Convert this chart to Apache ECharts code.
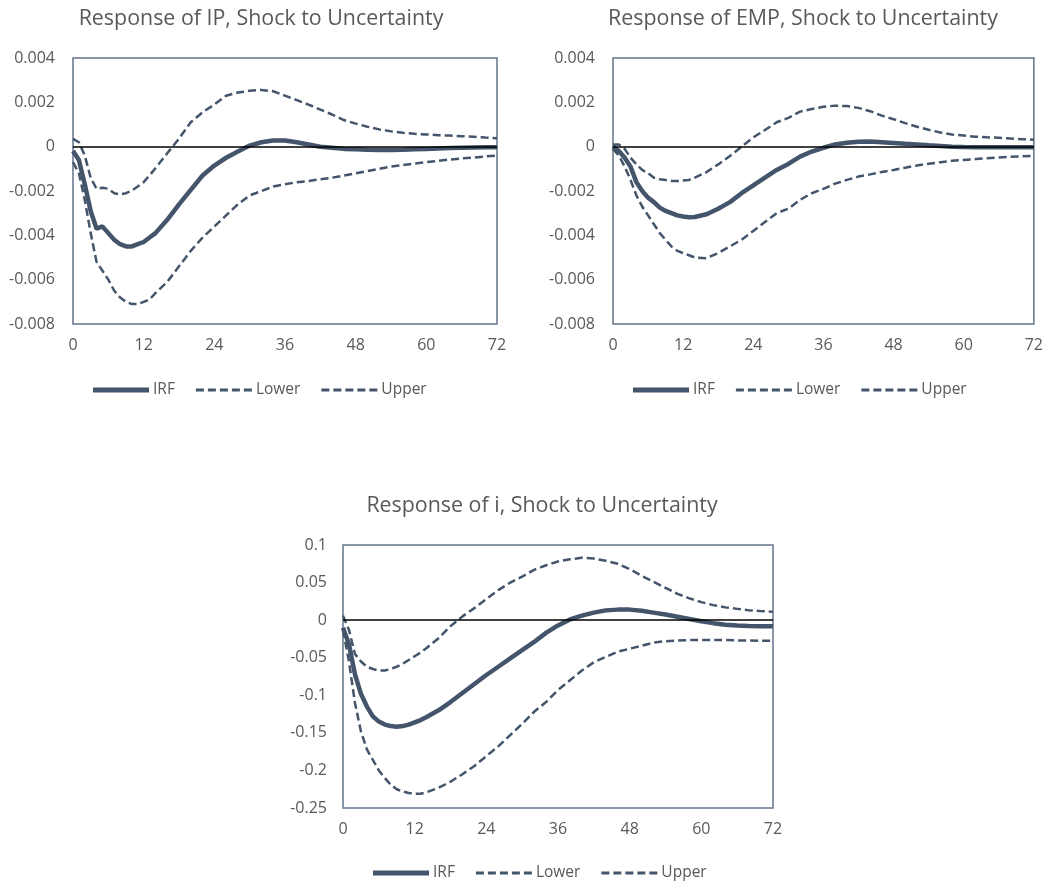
<!DOCTYPE html>
<html>
<head>
<meta charset="utf-8">
<script src="https://cdn.jsdelivr.net/npm/echarts@6/dist/echarts.min.js"></script>
<style>
  html, body { margin: 0; padding: 0; background: #fff; }
  #irf { width: 1046px; height: 889px; }
</style>
</head>
<body>
<div id="irf"></div>
<script>
// months after the shock (monthly to 14, then every 2 months)
var months = [0, 1, 2, 3, 4, 5, 6, 7, 8, 9, 10, 11, 12, 13, 14,
  16, 18, 20, 22, 24, 26, 28, 30, 32, 34, 36, 38, 40, 42, 44,
  46, 48, 50, 52, 54, 56, 58, 60, 62, 64, 66, 68, 70, 72]

// Response of IP
var ipIrf = [-0.0002, -0.0006, -0.0017, -0.0029, -0.0037, -0.0036, -0.0039, -0.0042, -0.0044, -0.0045, -0.0045, -0.0044, -0.0043, -0.0041, -0.0039,
  -0.0033, -0.0026, -0.00195, -0.0013, -0.00085, -0.0005, -0.00022, 0.00005, 0.0002, 0.00028, 0.00028, 0.0002, 0.0001, 0.0, -0.00005,
  -0.0001, -0.00012, -0.00014, -0.00015, -0.00015, -0.00014, -0.00012, -0.0001, -0.00008, -0.00006, -0.00005, -0.00004, -0.00003, -0.00003]
var ipLower = [-0.0007, -0.0012, -0.0024, -0.0039, -0.0052, -0.0056, -0.006, -0.0065, -0.0068, -0.007, -0.0071, -0.0071, -0.007, -0.0069, -0.0066,
  -0.0061, -0.0054, -0.0047, -0.0041, -0.0036, -0.0031, -0.0026, -0.0022, -0.002, -0.0018, -0.0017, -0.0016, -0.00155, -0.00147, -0.0014,
  -0.0013, -0.0012, -0.0011, -0.001, -0.0009, -0.00083, -0.00076, -0.0007, -0.00064, -0.00058, -0.00053, -0.00049, -0.00044, -0.0004]
var ipUpper = [0.00035, 0.0002, -0.0004, -0.0014, -0.0019, -0.00185, -0.0019, -0.0021, -0.00215, -0.0021, -0.00198, -0.0018, -0.0016, -0.0013, -0.00097,
  -0.0003, 0.00036, 0.0011, 0.00155, 0.0019, 0.0023, 0.00244, 0.00252, 0.00256, 0.0025, 0.0023, 0.0021, 0.0019, 0.00167, 0.00145,
  0.0012, 0.00104, 0.0009, 0.00078, 0.00069, 0.00063, 0.00058, 0.00055, 0.00052, 0.0005, 0.00047, 0.00045, 0.00041, 0.00038]

// Response of EMP
var empIrf = [0.0, -0.0002, -0.0005, -0.0009, -0.0016, -0.002, -0.0023, -0.0025, -0.00275, -0.0029, -0.003, -0.0031, -0.00315, -0.00318, -0.00317,
  -0.00305, -0.0028, -0.0025, -0.0021, -0.00175, -0.0014, -0.00105, -0.00078, -0.00045, -0.00022, -0.00005, 0.0001, 0.00018, 0.00022, 0.00023,
  0.0002, 0.00017, 0.00013, 0.0001, 0.00006, 0.00003, 0.0, -0.00002, -0.00003, -0.00003, -0.00003, -0.00003, -0.00003, -0.00003]
var empLower = [-0.0001, -0.0004, -0.0009, -0.0015, -0.0022, -0.0027, -0.0031, -0.0035, -0.0039, -0.0042, -0.0045, -0.0047, -0.0048, -0.0049, -0.005,
  -0.00503, -0.0048, -0.0045, -0.0042, -0.0038, -0.0034, -0.003, -0.0028, -0.0024, -0.0021, -0.0019, -0.00167, -0.0015, -0.00135, -0.00125,
  -0.00114, -0.00105, -0.00095, -0.00085, -0.00077, -0.0007, -0.00064, -0.0006, -0.00056, -0.00052, -0.00049, -0.00046, -0.00043, -0.00041]
var empUpper = [0.0001, 0.0001, -0.0001, -0.0005, -0.0008, -0.00105, -0.0012, -0.0014, -0.00147, -0.0015, -0.00155, -0.00155, -0.00153, -0.0015, -0.0014,
  -0.00115, -0.0008, -0.00042, 0.0, 0.00042, 0.00075, 0.0011, 0.0013, 0.00158, 0.0017, 0.0018, 0.00185, 0.00183, 0.00175, 0.0016,
  0.0014, 0.00124, 0.00106, 0.0009, 0.00076, 0.00064, 0.00055, 0.0005, 0.00045, 0.00042, 0.0004, 0.00037, 0.00034, 0.00031]

// Response of i
var iIrf = [-0.01, -0.032, -0.072, -0.098, -0.115, -0.128, -0.135, -0.139, -0.141, -0.142, -0.141, -0.139, -0.136, -0.133, -0.129,
  -0.12, -0.109, -0.097, -0.085, -0.073, -0.062, -0.051, -0.04, -0.029, -0.017, -0.007, 0.001, 0.006, 0.01, 0.013,
  0.014, 0.014, 0.0125, 0.01, 0.0075, 0.0045, 0.0015, -0.0015, -0.004, -0.006, -0.0072, -0.0078, -0.008, -0.008]
var iLower = [-0.013, -0.055, -0.11, -0.148, -0.172, -0.186, -0.2, -0.21, -0.219, -0.225, -0.228, -0.23, -0.231, -0.231, -0.229,
  -0.223, -0.215, -0.205, -0.194, -0.181, -0.168, -0.153, -0.138, -0.122, -0.109, -0.093, -0.08, -0.067, -0.056, -0.049,
  -0.042, -0.038, -0.034, -0.03, -0.028, -0.027, -0.0265, -0.0265, -0.0265, -0.0265, -0.027, -0.027, -0.0275, -0.0275]
var iUpper = [0.006, -0.013, -0.045, -0.055, -0.062, -0.065, -0.067, -0.067, -0.065, -0.062, -0.058, -0.053, -0.048, -0.043, -0.037,
  -0.024, -0.008, 0.005, 0.016, 0.028, 0.04, 0.05, 0.058, 0.067, 0.073, 0.078, 0.081, 0.083, 0.082, 0.079,
  0.075, 0.068, 0.059, 0.051, 0.043, 0.035, 0.029, 0.024, 0.02, 0.017, 0.015, 0.013, 0.012, 0.011]

var myChart = echarts.init(document.getElementById('irf'))
var lineColor = '#44546A'
var textColor = '#595959'
var font = '"Open Sans", "DejaVu Sans", sans-serif'
// legend icons: thick bar for IRF, five dashes for the bands
var solidIcon = 'path://M0,0 L56,0 L56,5 L0,5 Z'
var dashIcon = 'path://M0,0 L8,0 L8,3 L0,3 Z M12,0 L20,0 L20,3 L12,3 Z M24,0 L32,0 L32,3 L24,3 Z M36,0 L44,0 L44,3 L36,3 Z M48,0 L56,0 L56,3 L48,3 Z'

function pairs(vals) {
  return months.map(function(m, i) { return [m, vals[i]] })
}

function makeX(idx) {
  return {
    gridIndex: idx,
    type: 'value',
    min: 0,
    max: 72,
    interval: 12,
    axisLine: { show: false },
    axisTick: { show: false },
    splitLine: { show: false },
    axisLabel: { color: textColor, fontSize: 16, fontFamily: font, margin: 13 }
  }
}

function makeY(idx, min, max, step, digits, gap) {
  return {
    gridIndex: idx,
    type: 'value',
    min: min,
    max: max,
    interval: step,
    axisLine: { show: false },
    axisTick: { show: false },
    splitLine: { show: false },
    axisLabel: {
      color: textColor, fontSize: 16, fontFamily: font, margin: gap,
      formatter: function(v) { return String(parseFloat(v.toFixed(digits))) }
    }
  }
}

function makeSeries(idx, irf, lower, upper) {
  return [
    {
      name: 'IRF', type: 'line', xAxisIndex: idx, yAxisIndex: idx,
      data: pairs(irf), showSymbol: false, symbol: 'none', z: 4,
      lineStyle: { color: lineColor, width: 4.5 },
      itemStyle: { color: lineColor },
      markLine: {
        silent: true, symbol: 'none', label: { show: false },
        lineStyle: { color: '#000', width: 1.5, type: 'solid' },
        data: [{ yAxis: 0 }]
      }
    },
    {
      name: 'Lower', type: 'line', xAxisIndex: idx, yAxisIndex: idx,
      data: pairs(lower), showSymbol: false, symbol: 'none', z: 3,
      lineStyle: { color: lineColor, width: 2.5, type: [8, 4] },
      itemStyle: { color: lineColor }
    },
    {
      name: 'Upper', type: 'line', xAxisIndex: idx, yAxisIndex: idx,
      data: pairs(upper), showSymbol: false, symbol: 'none', z: 3,
      lineStyle: { color: lineColor, width: 2.5, type: [8, 4] },
      itemStyle: { color: lineColor }
    }
  ]
}

function makeLegend(left, top) {
  return {
    left: left, top: top, padding: 0,
    data: [
      { name: 'IRF', icon: solidIcon },
      { name: 'Lower', icon: dashIcon },
      { name: 'Upper', icon: dashIcon }
    ],
    itemWidth: 56, itemHeight: 5, itemGap: 21,
    itemStyle: { color: lineColor, borderWidth: 0 },
    lineStyle: { width: 0 },
    textStyle: { color: textColor, fontSize: 15.5, fontFamily: font, padding: [0, 0, 0, -1] }
  }
}

var titleStyle = { color: textColor, fontSize: 21.4, fontWeight: 'normal', fontFamily: font }

var option = {
  animation: false,
  backgroundColor: '#fff',
  title: [
    { text: 'Response of IP, Shock to Uncertainty', left: 256, top: 3, textAlign: 'center', textStyle: titleStyle },
    { text: 'Response of EMP, Shock to Uncertainty', left: 798, top: 3, textAlign: 'center', textStyle: titleStyle },
    { text: 'Response of i, Shock to Uncertainty', left: 537, top: 490, textAlign: 'center', textStyle: titleStyle }
  ],
  legend: [makeLegend(93, 382), makeLegend(633, 382), makeLegend(373, 865)],
  grid: [
    { left: 73, top: 58, width: 424, height: 266, show: true, borderColor: '#64748A', borderWidth: 1.5 },
    { left: 613, top: 58, width: 422, height: 266, show: true, borderColor: '#64748A', borderWidth: 1.5 },
    { left: 343, top: 545, width: 430, height: 263, show: true, borderColor: '#64748A', borderWidth: 1.5 }
  ],
  xAxis: [makeX(0), makeX(1), makeX(2)],
  yAxis: [
    makeY(0, -0.008, 0.004, 0.002, 3, 18),
    makeY(1, -0.008, 0.004, 0.002, 3, 18),
    makeY(2, -0.25, 0.1, 0.05, 2, 16)
  ],
  series: [].concat(
    makeSeries(0, ipIrf, ipLower, ipUpper),
    makeSeries(1, empIrf, empLower, empUpper),
    makeSeries(2, iIrf, iLower, iUpper)
  )
}

myChart.setOption(option)
window.addEventListener('resize', function() {
  myChart.resize()
})
</script>
</body>
</html>
